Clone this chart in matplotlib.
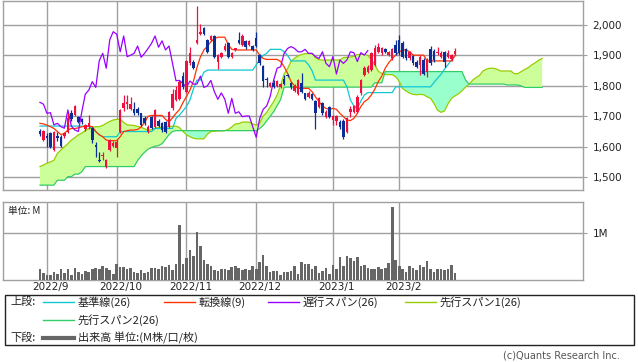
import numpy as np
import pandas as pd
import matplotlib
matplotlib.use("Agg")
from matplotlib import pyplot as plt
from matplotlib.patches import Rectangle
from matplotlib.lines import Line2D
from matplotlib.transforms import ScaledTranslation

plt.rcParams["font.family"] = ["DejaVu Sans"]
JP = ["Noto Sans CJK JP", "DejaVu Sans"]

# trading days (TSE), 2022-08-30 .. 2023-02-24
holidays = ["2022-09-19", "2022-09-23", "2022-10-10", "2022-11-03", "2022-11-23",
            "2023-01-02", "2023-01-03", "2023-01-09", "2023-02-23"]
dates = pd.bdate_range("2022-08-30", "2023-02-24")
dates = dates[~dates.isin(pd.to_datetime(holidays))]

open_ = [1653, 1622, 1636, 1645, 1590, 1634, 1633, 1634, 1650, 1710,
         1705, 1697, 1690, 1657, 1666, 1661, 1606, 1558, 1570, 1535,
         1590, 1604, 1595, 1650, 1726, 1740, 1725, 1723, 1725, 1710,
         1693, 1650, 1699, 1666, 1686, 1677, 1683, 1666, 1726, 1754,
         1756, 1832, 1781, 1874, 1880, 1940, 1972, 1989, 1951, 1951,
         1964, 1880, 1896, 1918, 1940, 1896, 1918, 1951, 1934, 1948,
         1934, 1931, 1956, 1901, 1865, 1822, 1800, 1808, 1800, 1795,
         1823, 1835, 1808, 1784, 1773, 1810, 1775, 1764, 1772, 1750,
         1730, 1743, 1699, 1732, 1688, 1686, 1683, 1686, 1650, 1715,
         1715, 1715, 1775, 1836, 1847, 1852, 1869, 1912, 1907, 1920,
         1901, 1890, 1934, 1951, 1942, 1920, 1890, 1898, 1880, 1869,
         1885, 1847, 1920, 1916, 1907, 1894, 1912, 1896, 1887, 1905]
high = [1657, 1655, 1645, 1650, 1652, 1650, 1640, 1650, 1712, 1720,
        1738, 1702, 1695, 1676, 1704, 1665, 1617, 1584, 1584, 1560,
        1626, 1620, 1625, 1725, 1770, 1770, 1765, 1748, 1730, 1712,
        1700, 1670, 1702, 1725, 1690, 1680, 1686, 1718, 1790, 1798,
        1820, 1845, 1886, 1929, 1886, 2062, 2003, 1993, 1955, 1968,
        1968, 1905, 1912, 1940, 1944, 1912, 1926, 1976, 1970, 1952,
        1952, 1934, 1978, 1905, 1868, 1830, 1812, 1818, 1820, 1808,
        1835, 1840, 1812, 1805, 1822, 1843, 1778, 1782, 1776, 1753,
        1762, 1746, 1720, 1735, 1705, 1704, 1688, 1690, 1697, 1734,
        1738, 1770, 1823, 1865, 1868, 1912, 1934, 1940, 1927, 1926,
        1916, 1924, 1951, 1967, 1946, 1924, 1916, 1902, 1884, 1900,
        1890, 1890, 1931, 1920, 1927, 1913, 1916, 1918, 1905, 1923]
low = [1635, 1618, 1600, 1596, 1587, 1620, 1598, 1628, 1645, 1685,
       1700, 1678, 1675, 1652, 1660, 1612, 1567, 1550, 1557, 1530,
       1585, 1598, 1567, 1645, 1718, 1725, 1720, 1705, 1705, 1668,
       1672, 1645, 1658, 1663, 1665, 1650, 1645, 1662, 1722, 1750,
       1752, 1790, 1778, 1870, 1855, 1936, 1967, 1966, 1908, 1946,
       1893, 1854, 1890, 1914, 1890, 1893, 1915, 1936, 1930, 1922,
       1930, 1914, 1927, 1870, 1795, 1797, 1796, 1792, 1796, 1792,
       1803, 1828, 1790, 1780, 1770, 1778, 1752, 1760, 1752, 1657,
       1726, 1706, 1694, 1695, 1672, 1672, 1660, 1624, 1645, 1699,
       1710, 1710, 1770, 1832, 1842, 1848, 1865, 1908, 1902, 1908,
       1897, 1886, 1903, 1903, 1892, 1886, 1886, 1870, 1860, 1836,
       1835, 1828, 1870, 1880, 1903, 1890, 1863, 1892, 1883, 1900]
close = [1642, 1652, 1630, 1600, 1647, 1630, 1601, 1644, 1693, 1690,
         1734, 1683, 1680, 1671, 1679, 1622, 1600, 1554, 1573, 1558,
         1622, 1611, 1617, 1721, 1745, 1746, 1740, 1710, 1712, 1672,
         1677, 1666, 1661, 1721, 1668, 1655, 1650, 1715, 1773, 1786,
         1814, 1795, 1883, 1907, 1858, 1951, 1978, 1970, 1912, 1964,
         1896, 1901, 1907, 1931, 1894, 1907, 1923, 1940, 1964, 1927,
         1948, 1918, 1931, 1874, 1817, 1818, 1808, 1795, 1816, 1806,
         1806, 1832, 1795, 1800, 1818, 1781, 1756, 1777, 1756, 1710,
         1759, 1710, 1715, 1699, 1701, 1701, 1666, 1631, 1693, 1723,
         1734, 1765, 1819, 1858, 1863, 1907, 1923, 1929, 1923, 1912,
         1912, 1920, 1907, 1907, 1896, 1890, 1912, 1874, 1863, 1896,
         1839, 1885, 1874, 1885, 1912, 1909, 1880, 1909, 1901, 1916]

# volume, millions of shares
volume = [0.23, 0.15, 0.11, 0.11, 0.17, 0.13, 0.23, 0.15, 0.23, 0.11,
          0.26, 0.17, 0.13, 0.20, 0.18, 0.23, 0.25, 0.24, 0.29, 0.26,
          0.22, 0.13, 0.33, 0.28, 0.28, 0.24, 0.25, 0.17, 0.15, 0.21,
          0.15, 0.16, 0.25, 0.25, 0.23, 0.30, 0.28, 0.32, 0.21, 0.33,
          1.17, 0.33, 0.47, 0.63, 0.52, 1.02, 0.72, 0.43, 0.33, 0.29,
          0.22, 0.20, 0.23, 0.23, 0.22, 0.28, 0.30, 0.26, 0.21, 0.24,
          0.22, 0.30, 0.23, 0.38, 0.53, 0.30, 0.16, 0.20, 0.20, 0.11,
          0.18, 0.18, 0.20, 0.30, 0.13, 0.38, 0.35, 0.33, 0.23, 0.30,
          0.15, 0.20, 0.26, 0.13, 0.32, 0.23, 0.49, 0.30, 0.51, 0.47,
          0.41, 0.49, 0.30, 0.32, 0.26, 0.23, 0.23, 0.27, 0.23, 0.25,
          0.36, 1.55, 0.43, 0.30, 0.23, 0.17, 0.30, 0.26, 0.22, 0.32,
          0.28, 0.40, 0.23, 0.17, 0.23, 0.23, 0.21, 0.23, 0.32, 0.15]

# 基準線(26)
kijun = [1668] * 15 + [1660, 1650, 1640] + [1633] * 5 + [1650] * 10 + [1660] * 6 + \
        [1693, 1704, 1718, 1732, 1754, 1790, 1819, 1819, 1845] + [1852] * 14 + \
        [1869, 1887, 1900, 1907] + [1920] * 4 + [1912, 1900] + [1882] * 5 + \
        [1869, 1850] + [1819] * 9 + [1797, 1754, 1734, 1726, 1750, 1770] + \
        [1778] * 8 + [1797] * 11 + [1812, 1825, 1838, 1855, 1870, 1885, 1899]

# 転換線(9)
tenkan = [1677, 1675, 1671, 1666, 1660, 1650, 1640, 1644, 1655, 1660,
          1660, 1662, 1666, 1666, 1668, 1666, 1650, 1639, 1633, 1622,
          1620, 1620, 1620, 1633, 1650, 1653, 1655, 1655, 1657, 1665,
          1680, 1700, 1703, 1703, 1703, 1703, 1690, 1682, 1695, 1710,
          1722, 1745, 1765, 1786, 1815, 1860, 1895, 1918, 1930, 1945,
          1955, 1960, 1960, 1960, 1935, 1920, 1918, 1918, 1918, 1918,
          1918, 1918, 1918, 1901, 1890, 1887, 1887, 1887, 1887, 1880,
          1863, 1841, 1814, 1800, 1792, 1792, 1792, 1792, 1781, 1764,
          1748, 1734, 1726, 1723, 1726, 1723, 1710, 1699, 1688, 1686,
          1693, 1710, 1732, 1748, 1756, 1770, 1789, 1814, 1832, 1858,
          1876, 1890, 1901, 1912, 1918, 1918, 1912, 1901, 1901, 1901,
          1901, 1882, 1882, 1882, 1882, 1882, 1882, 1882, 1882, 1900]

# 先行スパン1(26), drawn 25 sessions ahead
span1 = [1535, 1540, 1546, 1550, 1556, 1578, 1589, 1600, 1610, 1622,
         1630, 1639, 1645, 1653, 1660, 1664, 1666, 1666, 1670, 1677,
         1683, 1688, 1690, 1690, 1680,
         1672, 1671, 1670, 1667, 1664, 1659, 1654, 1656, 1661, 1664,
         1664, 1665, 1667, 1667, 1668, 1663, 1650, 1640, 1633, 1628,
         1626, 1626, 1626, 1641, 1650, 1651, 1652, 1652, 1653, 1657,
         1665, 1675, 1676, 1681, 1681, 1681, 1675, 1671, 1677, 1701,
         1713, 1731, 1748, 1770, 1802, 1839, 1857, 1881, 1891, 1898,
         1903, 1906, 1906, 1906, 1893, 1886, 1885, 1885, 1885, 1885,
         1885, 1885, 1893, 1894, 1895, 1897, 1903, 1903, 1903, 1900,
         1887, 1870, 1848, 1841, 1837, 1837, 1837, 1830, 1815, 1791,
         1783, 1776, 1772, 1771, 1772, 1771, 1764, 1759, 1742, 1720,
         1713, 1718, 1741, 1759, 1767, 1774, 1784, 1796, 1805, 1818,
         1827, 1834, 1849, 1855, 1858, 1858, 1855, 1849, 1849, 1849,
         1849, 1840, 1840, 1847, 1854, 1860, 1869, 1876, 1884, 1890]

# 先行スパン2(26), drawn 25 sessions ahead
span2 = [1474] * 5 + [1490] * 3 + [1502] * 2 + [1510] * 2 + [1518] + [1535] * 15 + \
        [1555, 1570, 1582, 1592, 1598, 1602, 1604, 1610, 1625, 1640, 1650] + \
        [1653] * 24 + [1660, 1670, 1685, 1700, 1715, 1735, 1755] + [1796] * 26 + \
        [1810] * 3 + [1847] * 23 + [1820] + [1806] * 11 + [1803] * 4 + [1800] + [1795] * 6

o = np.array(open_, float)
h = np.array(high, float)
l = np.array(low, float)
c = np.array(close, float)
n = len(c)
lag = 25
x = np.arange(n)
xf = np.arange(n + lag)
s1 = np.array(span1, float)
s2 = np.array(span2, float)

fig = plt.figure(figsize=(6.38, 3.62), dpi=100)
W, H = 638.0, 362.0
ax = fig.add_axes([3 / W, 1 - 190.3 / H, 580 / W, 189.8 / H])
axv = fig.add_axes([3 / W, 1 - 280 / H, 580 / W, 78.5 / H])

grid_c = "#a0a0a0"
for a in (ax, axv):
    a.set_xlim(-10.6, 155.7)
    for s in a.spines.values():
        s.set_color(grid_c)
        s.set_linewidth(1.0)
    a.grid(True, color=grid_c, linewidth=1.0)
    a.set_axisbelow(True)
    a.yaxis.tick_right()
    a.tick_params(axis="y", direction="out", length=3, width=0.8, color=grid_c,
                  pad=4, labelsize=7.5, labelcolor="#222222")

# month ticks from the trading calendar
mpos = [i for i in range(1, n) if dates[i].month != dates[i - 1].month]
mlab = [f"{dates[i].year}/{dates[i].month}" for i in mpos]

# cloud
ax.fill_between(xf, s1, s2, where=s1 >= s2, interpolate=True, color="#ccff99", lw=0, zorder=1)
ax.fill_between(xf, s1, s2, where=s1 < s2, interpolate=True, color="#99ffcc", lw=0, zorder=1)
ax.plot(xf, s1, color="#99cc00", lw=0.9, zorder=2)
ax.plot(xf, s2, color="#33cc66", lw=0.9, zorder=2)
ax.plot(x, kijun, color="#11c8d0", lw=0.9, zorder=3)
ax.plot(x, tenkan, color="#ff3300", lw=0.9, zorder=3)
ax.plot(x[:n - lag], c[lag:], color="#9900ff", lw=0.9, zorder=3)

# candles
up = c >= o
col = np.where(up, "#f01040", "#0a2d96")
body_lo = np.minimum(o, c)
body_h = np.maximum(np.abs(c - o), 2.0)
ax.vlines(x, l, h, colors=col, lw=0.9, zorder=4)
ax.bar(x, body_h, bottom=body_lo, width=0.72, color=col, lw=0, zorder=5)

ax.set_ylim(1457, 2080.5)
ax.set_yticks([1500, 1600, 1700, 1800, 1900, 2000])
ax.set_yticklabels([f"{v:,}" for v in [1500, 1600, 1700, 1800, 1900, 2000]])
ax.set_xticks(mpos)
ax.tick_params(axis="x", length=0, labelbottom=False)

# volume
axv.bar(x, volume, width=0.75, color="#666666", lw=0, zorder=3)
axv.set_ylim(0, 1.67)
axv.set_yticks([1])
axv.set_yticklabels(["1M"])
axv.set_xticks(mpos)
axv.set_xticklabels(mlab)
axv.tick_params(axis="x", length=0, pad=1.5, labelsize=7.5, labelcolor="#222222")
shift = ScaledTranslation(4 / 100, 0, fig.dpi_scale_trans)
for t in axv.get_xticklabels():
    t.set_transform(t.get_transform() + shift)
axv.text(0.008, 0.88, "単位: M", transform=axv.transAxes, fontsize=7, family=JP,
         ha="left", va="center", color="#222222")

# legend box in pixel coordinates
lax = fig.add_axes([0, 0, 1, 1])
lax.set_xlim(0, W)
lax.set_ylim(H, 0)
lax.axis("off")
lax.patch.set_alpha(0)
lax.add_patch(Rectangle((4.5, 295), 629.5, 50, fill=False, ec="#222222", lw=1.0))
fs = 8
rows = [302, 320, 338]
lax.text(10, rows[0], "上段:", fontsize=fs, family=JP, va="center", color="#222222")
lax.text(10, rows[2], "下段:", fontsize=fs, family=JP, va="center", color="#222222")
entries = [
    (43, rows[0], "#11c8d0", 1.0, "基準線(26)"),
    (164, rows[0], "#ff3300", 1.0, "転換線(9)"),
    (268, rows[0], "#9900ff", 1.0, "遅行スパン(26)"),
    (405, rows[0], "#99cc00", 1.0, "先行スパン1(26)"),
    (43, rows[1], "#33cc66", 1.0, "先行スパン2(26)"),
    (43, rows[2], "#666666", 3.0, "出来高 単位:(M株/口/枚)"),
]
for x0, y0, color, lw, label in entries:
    lax.add_line(Line2D([x0, x0 + 31], [y0, y0], color=color, lw=lw))
    lax.text(x0 + 35, y0, label, fontsize=fs, family=JP, va="center", color="#222222")

lax.text(620, 356, "(c)Quants Research Inc.", fontsize=7, ha="right", va="center",
         color="#555555")

fig.savefig("out.png", dpi=100)
